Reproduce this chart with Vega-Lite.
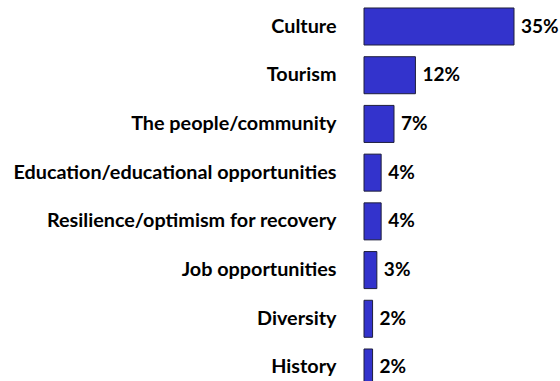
{
  "$schema": "https://vega.github.io/schema/vega-lite/v6.json",
  "autosize": "none",
  "width": 150,
  "height": 394,
  "padding": {"left": 364, "top": 0, "right": 46, "bottom": -13},
  "background": "white",
  "config": {"view": {"stroke": null}},
  "data": {"values": [
    {"item": "Culture", "value": 0.35},
    {"item": "Tourism", "value": 0.12},
    {"item": "The people/community", "value": 0.07},
    {"item": "Education/educational opportunities", "value": 0.04},
    {"item": "Resilience/optimism for recovery", "value": 0.04},
    {"item": "Job opportunities", "value": 0.03},
    {"item": "Diversity", "value": 0.02},
    {"item": "History", "value": 0.02}
  ]},
  "encoding": {
    "y": {"field": "item", "type": "nominal", "sort": null,
      "scale": {"paddingInner": 0.24, "paddingOuter": 0.164},
      "axis": {"title": null, "domain": false, "ticks": false, "labelPadding": 28, "labelFont": "Lato", "labelFontSize": 19.8, "labelFontWeight": "bold", "labelColor": "#000000", "labelLimit": 0}},
    "x": {"field": "value", "type": "quantitative", "scale": {"domain": [0, 0.35]}, "axis": null}
  },
  "layer": [
    {"mark": {"type": "bar", "color": "#3333cc", "stroke": "#1e1e3c", "strokeWidth": 1}},
    {"mark": {"type": "text", "align": "left", "baseline": "middle", "dx": 7, "font": "Lato", "fontSize": 19, "fontWeight": "bold", "color": "#000000"},
     "encoding": {"text": {"field": "value", "type": "quantitative", "format": ".0%"}}}
  ]
}
